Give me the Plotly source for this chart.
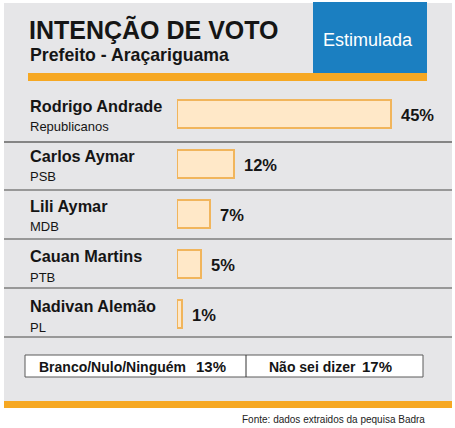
import plotly.graph_objects as go

# ---- data ----
candidates = ["Rodrigo Andrade", "Carlos Aymar", "Lili Aymar", "Cauan Martins", "Nadivan Alemão"]
parties = ["Republicanos", "PSB", "MDB", "PTB", "PL"]
values = [45, 12, 7, 5, 1]
other_labels = ["Branco/Nulo/Ninguém", "Não sei dizer"]
other_values = [13, 17]
title = "INTENÇÃO DE VOTO"
subtitle = "Prefeito - Araçariguama"
badge = "Estimulada"
source = "Fonte: dados extraidos da pequisa Badra"

W, H = 455, 428
FONT = "Liberation Sans, Arial, Helvetica, sans-serif"


def px(x):
    return x / W


def py(y):
    return 1 - y / H


GREY = "#E6E6E8"
BLUE = "#1B7FC1"
ORANGE = "#F6A823"
BAR_FILL = "#FFE8C8"
BAR_LINE = "#F1B55C"
TXT = "#151515"

fig = go.Figure()
fig.add_trace(go.Bar(
    x=values, y=candidates, orientation="h",
    marker=dict(color=BAR_FILL, line=dict(color=BAR_LINE, width=2)),
    width=0.56, hoverinfo="skip", showlegend=False,
))

shapes = []


def rect(x0, y0, x1, y1, fill, line_color=None, lw=0):
    shapes.append(dict(type="rect", xref="paper", yref="paper",
                       x0=px(x0), x1=px(x1), y0=py(y1), y1=py(y0),
                       fillcolor=fill,
                       line=dict(color=line_color or fill, width=lw),
                       layer="below"))


def hline(y, x0, x1, color, w):
    shapes.append(dict(type="line", xref="paper", yref="paper",
                       x0=px(x0), x1=px(x1), y0=py(y), y1=py(y),
                       line=dict(color=color, width=w), layer="below"))


def vline(x, y0, y1, color, w):
    shapes.append(dict(type="line", xref="paper", yref="paper",
                       x0=px(x), x1=px(x), y0=py(y0), y1=py(y1),
                       line=dict(color=color, width=w), layer="below"))


rect(4, 3, 452, 401, GREY)
rect(313, 2, 427, 73, BLUE)
rect(28, 73, 427, 81, ORANGE)
hline(142, 4, 452, "#858585", 2)
for yy in [190, 239, 288, 337]:
    hline(yy, 4, 452, "#7E7E7E", 1.3)
rect(25, 355, 423, 377, "white", "#5A5A5A", 1)
vline(246, 355, 377, "#333333", 1)
rect(4, 401, 452, 408, ORANGE)

ann = []
ann.append(dict(text=title, x=px(27), y=py(29.5), xref="paper", yref="paper",
                xanchor="left", yanchor="middle", showarrow=False,
                font=dict(family=FONT, size=25, color=TXT, weight="bold")))
ann.append(dict(text=subtitle, x=px(28), y=py(55), xref="paper", yref="paper",
                xanchor="left", yanchor="middle", showarrow=False,
                font=dict(family=FONT, size=17.7, color=TXT, weight="bold")))
ann.append(dict(text=badge, x=px(368), y=py(40), xref="paper", yref="paper",
                xanchor="center", yanchor="middle", showarrow=False,
                font=dict(family=FONT, size=18, color="white")))

for name, party, v in zip(candidates, parties, values):
    ann.append(dict(text=name, x=px(28), y=name, xref="paper", yref="y",
                    xanchor="left", yanchor="middle", yshift=8, showarrow=False,
                    font=dict(family=FONT, size=16.3, color=TXT, weight="bold")))
    ann.append(dict(text=party, x=px(28), y=name, xref="paper", yref="y",
                    xanchor="left", yanchor="middle", yshift=-13, showarrow=False,
                    font=dict(family=FONT, size=13, color=TXT)))
    ann.append(dict(text=f"{v}%", x=v, y=name, xref="x", yref="y",
                    xanchor="left", yanchor="middle", xshift=8, yshift=-1, showarrow=False,
                    font=dict(family=FONT, size=16.5, color=TXT, weight="bold")))

label_x = [37, 267]
value_x = [194, 360]
for lab, v, lx, vx in zip(other_labels, other_values, label_x, value_x):
    ann.append(dict(text=lab, x=px(lx), y=py(366.5), xref="paper", yref="paper",
                    xanchor="left", yanchor="middle", showarrow=False,
                    font=dict(family=FONT, size=14, color=TXT, weight="bold")))
    ann.append(dict(text=f"{v}%", x=px(vx), y=py(366), xref="paper", yref="paper",
                    xanchor="left", yanchor="middle", showarrow=False,
                    font=dict(family=FONT, size=15, color=TXT, weight="bold")))

ann.append(dict(text=source, x=px(240), y=py(419), xref="paper", yref="paper",
                xanchor="left", yanchor="middle", showarrow=False,
                font=dict(family=FONT, size=10, color="#222222")))

x_end = 177 + 50 * (214 / 45)
fig.update_layout(
    width=W, height=H, autosize=False,
    margin=dict(l=0, r=0, t=0, b=0, pad=0),
    paper_bgcolor="white", plot_bgcolor="rgba(0,0,0,0)",
    shapes=shapes, annotations=ann,
    xaxis=dict(domain=[px(177), px(x_end)], range=[0, 50], visible=False,
               fixedrange=True),
    yaxis=dict(domain=[py(339), py(89)], type="category", range=[4.5, -0.5],
               visible=False, fixedrange=True),
    bargap=0, showlegend=False,
)

fig.write_html("out.html", config={"displayModeBar": False},
               post_script="document.body.style.margin='0px';document.body.style.overflow='hidden';")
